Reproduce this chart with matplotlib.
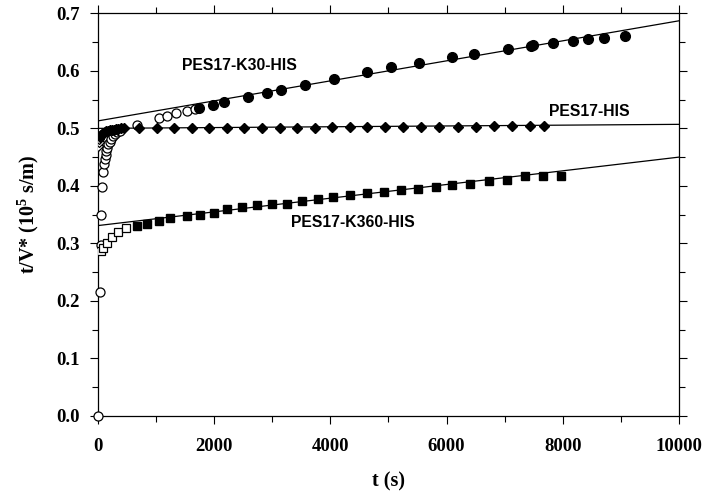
import matplotlib
matplotlib.use('Agg')
import matplotlib.pyplot as plt
from matplotlib.ticker import MultipleLocator

# PES17-K30-HIS: early open circles, then filled circles
k30_open_t = [0, 40, 45, 55, 70, 85, 100, 115, 130, 145, 160, 180, 200, 225, 255, 290, 330, 380,
              665, 1055, 1195, 1335, 1525, 1670]
k30_open_v = [0.0, 0.215, 0.298, 0.349, 0.398, 0.424, 0.438, 0.447, 0.454, 0.460, 0.466, 0.472,
              0.477, 0.482, 0.486, 0.490, 0.493, 0.496,
              0.506, 0.518, 0.522, 0.527, 0.531, 0.534]
k30_fill_t = [1745, 1975, 2175, 2590, 2915, 3150, 3565, 4060, 4635, 5045, 5525, 6095, 6470,
              7050, 7455, 7495, 7835, 8175, 8430, 8705, 9065]
k30_fill_v = [0.535, 0.541, 0.546, 0.555, 0.562, 0.567, 0.575, 0.585, 0.598, 0.606, 0.613,
              0.624, 0.630, 0.638, 0.644, 0.645, 0.649, 0.652, 0.655, 0.657, 0.661]

# PES17-HIS: diamonds
his_open_t = [0, 10, 20]
his_open_v = [0.469, 0.476, 0.481]
his_fill_t = [30, 50, 70, 90, 115, 140, 170, 200, 235, 270, 310, 350, 400, 450,
              710, 1010, 1310, 1615, 1910, 2215, 2520, 2830, 3130, 3430, 3735, 4035,
              4335, 4635, 4940, 5255, 5560, 5875, 6190, 6500, 6815, 7130, 7435, 7675]
his_fill_v = [0.485, 0.488, 0.490, 0.492, 0.494, 0.495, 0.496, 0.497, 0.498, 0.498, 0.499,
              0.499, 0.500, 0.500,
              0.500, 0.500, 0.500, 0.500, 0.500, 0.501, 0.501, 0.501, 0.501, 0.501, 0.501,
              0.502, 0.502, 0.502, 0.502, 0.502, 0.503, 0.503, 0.503, 0.503, 0.504, 0.504,
              0.504, 0.504]

# PES17-K360-HIS: squares
k360_open_t = [55, 85, 150, 235, 350, 480]
k360_open_v = [0.286, 0.292, 0.301, 0.311, 0.319, 0.326]
k360_fill_t = [665, 848, 1056, 1239, 1537, 1756, 1997, 2225, 2483, 2731, 2989, 3247, 3506,
               3781, 4050, 4337, 4635, 4922, 5210, 5502, 5812, 6103, 6413, 6730, 7034, 7349,
               7664, 7968]
k360_fill_v = [0.331, 0.334, 0.339, 0.345, 0.347, 0.350, 0.352, 0.359, 0.363, 0.366, 0.368,
               0.369, 0.373, 0.377, 0.381, 0.384, 0.388, 0.390, 0.392, 0.395, 0.398, 0.401,
               0.404, 0.409, 0.410, 0.417, 0.418, 0.418]

# fitted straight lines (value at t=0 and t=10000)
fit_t = [0, 10000]
k30_fit = [0.513, 0.687]
his_fit = [0.500, 0.507]
k360_fit = [0.331, 0.450]

labels = ['PES17-K30-HIS', 'PES17-HIS', 'PES17-K360-HIS']
label_pos = [(1440, 0.609), (7760, 0.530), (3330, 0.336)]

plt.rcParams['font.family'] = 'Liberation Serif'
plt.rcParams['mathtext.default'] = 'regular'

fig = plt.figure(figsize=(7.11, 4.94), dpi=100)
ax = fig.add_axes([0.1378, 0.158, 0.817, 0.815])

lw = 0.9
for fit in [k30_fit, his_fit, k360_fit]:
    ax.plot(fit_t, fit, color='black', lw=lw, zorder=2)

ax.plot(k30_open_t, k30_open_v, 'o', ms=6.5, mfc='white', mec='black', mew=0.9, clip_on=False, zorder=3)
ax.plot(k30_fill_t, k30_fill_v, 'o', ms=7, mfc='black', mec='black', zorder=3)
ax.plot(his_open_t, his_open_v, 'D', ms=5.5, mfc='white', mec='black', mew=0.9, zorder=3)
ax.plot(his_fill_t, his_fill_v, 'D', ms=5.5, mfc='black', mec='black', zorder=3)
ax.plot(k360_open_t, k360_open_v, 's', ms=5.8, mfc='white', mec='black', mew=0.9, zorder=3)
ax.plot(k360_fill_t, k360_fill_v, 's', ms=5.8, mfc='black', mec='black', zorder=3)

for txt, (tx, ty) in zip(labels, label_pos):
    ax.text(tx, ty, txt, family='Liberation Sans', fontweight='bold', fontsize=11.3,
            ha='left', va='center')

ax.set_xlim(0, 10000)
ax.set_ylim(0, 0.7)
ax.xaxis.set_major_locator(MultipleLocator(2000))
ax.xaxis.set_minor_locator(MultipleLocator(1000))
ax.yaxis.set_major_locator(MultipleLocator(0.1))
ax.yaxis.set_minor_locator(MultipleLocator(0.05))
ax.yaxis.set_major_formatter(matplotlib.ticker.FormatStrFormatter('%.1f'))
ax.tick_params(which='both', direction='out', top=True, right=True, width=0.8)
ax.tick_params(which='major', length=6, labelsize=13.5)
ax.tick_params(axis='x', which='major', pad=10)
ax.tick_params(axis='y', which='major', pad=7)
ax.tick_params(which='minor', length=4)
ax.tick_params(labeltop=False, labelright=False)
for lab in ax.get_xticklabels() + ax.get_yticklabels():
    lab.set_fontweight('bold')
for sp in ax.spines.values():
    sp.set_linewidth(0.9)

ax.set_xlabel('t (s)', fontsize=14.5, fontweight='bold', labelpad=12)
ax.set_ylabel('t/V* (10$^{5}$ s/m)', fontsize=14.5, fontweight='bold', labelpad=11)

fig.savefig('out.png', dpi=100)
